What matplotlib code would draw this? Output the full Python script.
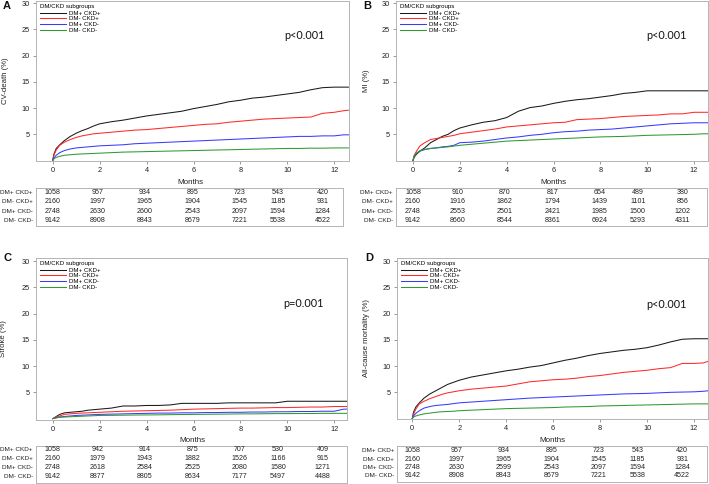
import matplotlib
matplotlib.use("Agg")
import matplotlib.pyplot as plt
from matplotlib.lines import Line2D
from matplotlib.transforms import blended_transform_factory

# ---------------- data ----------------
groups = ["DM+ CKD+", "DM- CKD+", "DM+ CKD-", "DM- CKD-"]
colors = ["#1a1a1a", "#ff2a2a", "#3a3aff", "#2f9a2f"]
months = [0, 0.05, 0.15, 0.3, 0.5, 0.75, 1, 1.25, 1.5, 1.75, 2,
          2.5, 3, 3.5, 4, 4.5, 5, 5.5, 6,
          6.5, 7, 7.5, 8, 8.5, 9, 9.5, 10,
          10.5, 11, 11.5, 12, 12.4, 12.6]
month_ticks = [0, 2, 4, 6, 8, 10, 12]
pct_ticks = [5, 10, 15, 20, 25, 30]

# A: CV death
cv_dmp_ckdp = [0, 1.2, 2.3, 3.0, 3.8, 4.6, 5.2, 5.7, 6.1, 6.6, 7.0, 7.4, 7.7, 8.1, 8.5, 8.8, 9.1, 9.4, 9.9,
               10.3, 10.7, 11.2, 11.5, 11.9, 12.1, 12.4, 12.7, 13.0, 13.5, 13.9, 14.0, 14.0, 14.0]
cv_dmn_ckdp = [0, 1.0, 2.0, 2.9, 3.5, 4.0, 4.4, 4.7, 4.9, 5.1, 5.2, 5.4, 5.6, 5.8, 5.9, 6.1, 6.3, 6.5, 6.7,
               6.9, 7.0, 7.3, 7.5, 7.7, 7.9, 8.0, 8.1, 8.2, 8.3, 9.0, 9.2, 9.5, 9.6]
cv_dmp_ckdn = [0, 0.5, 1.0, 1.5, 1.9, 2.2, 2.4, 2.5, 2.6, 2.7, 2.8, 2.9, 3.0, 3.2, 3.3, 3.4, 3.5, 3.6, 3.7,
               3.8, 3.9, 4.0, 4.1, 4.2, 4.3, 4.4, 4.5, 4.6, 4.6, 4.7, 4.7, 4.9, 4.9]
cv_dmn_ckdn = [0, 0.3, 0.6, 0.8, 1.0, 1.1, 1.2, 1.25, 1.3, 1.35, 1.4, 1.5, 1.6, 1.65, 1.7, 1.75, 1.8, 1.85, 1.9,
               1.95, 2.0, 2.05, 2.1, 2.15, 2.2, 2.25, 2.3, 2.3, 2.35, 2.35, 2.4, 2.4, 2.4]
# B: MI
mi_dmp_ckdp = [0, 0.6, 1.2, 1.8, 2.4, 3.4, 4.0, 4.6, 5.0, 5.7, 6.2, 6.8, 7.3, 7.6, 8.2, 9.4, 10.1, 10.4, 10.9,
               11.3, 11.6, 11.8, 12.1, 12.4, 12.8, 13.0, 13.3, 13.3, 13.3, 13.3, 13.3, 13.3, 13.3]
mi_dmn_ckdp = [0, 1.0, 1.8, 2.8, 3.4, 4.0, 4.2, 4.4, 4.6, 4.8, 5.1, 5.4, 5.7, 6.0, 6.4, 6.6, 6.8, 7.0, 7.2,
               7.3, 7.8, 7.9, 8.0, 8.2, 8.4, 8.5, 8.6, 8.7, 8.9, 8.9, 9.2, 9.2, 9.2]
mi_dmp_ckdn = [0, 0.8, 1.4, 1.8, 2.1, 2.3, 2.4, 2.6, 2.7, 2.9, 3.4, 3.5, 3.7, 4.0, 4.3, 4.5, 4.8, 5.0, 5.3,
               5.5, 5.6, 5.8, 5.9, 6.0, 6.2, 6.4, 6.6, 6.8, 7.0, 7.1, 7.2, 7.2, 7.2]
mi_dmn_ckdn = [0, 0.8, 1.4, 1.9, 2.1, 2.3, 2.4, 2.5, 2.6, 2.75, 2.9, 3.1, 3.3, 3.5, 3.7, 3.8, 3.9, 4.0, 4.1,
               4.2, 4.3, 4.4, 4.5, 4.55, 4.6, 4.7, 4.8, 4.85, 4.9, 4.95, 5.0, 5.1, 5.1]
# C: Stroke
st_dmp_ckdp = [0, 0.1, 0.4, 0.8, 1.1, 1.2, 1.3, 1.4, 1.6, 1.7, 1.8, 2.0, 2.4, 2.4, 2.5, 2.5, 2.6, 2.9, 2.9,
               2.9, 2.9, 3.0, 3.0, 3.0, 3.0, 3.0, 3.3, 3.3, 3.3, 3.3, 3.3, 3.3, 3.3]
st_dmn_ckdp = [0, 0.1, 0.3, 0.5, 0.8, 0.9, 1.0, 1.05, 1.1, 1.15, 1.2, 1.3, 1.4, 1.45, 1.5, 1.55, 1.6, 1.7, 1.8,
               1.85, 1.9, 1.95, 2.0, 2.0, 2.05, 2.1, 2.1, 2.15, 2.2, 2.2, 2.3, 2.3, 2.3]
st_dmp_ckdn = [0, 0.05, 0.15, 0.3, 0.4, 0.5, 0.6, 0.65, 0.7, 0.75, 0.8, 0.85, 0.9, 0.95, 1.0, 1.05, 1.05, 1.1, 1.1,
               1.15, 1.15, 1.2, 1.2, 1.25, 1.25, 1.3, 1.3, 1.35, 1.35, 1.4, 1.4, 1.8, 1.8]
st_dmn_ckdn = [0, 0.05, 0.15, 0.25, 0.3, 0.35, 0.4, 0.45, 0.5, 0.55, 0.6, 0.62, 0.65, 0.68, 0.7, 0.72, 0.75, 0.78, 0.8,
               0.82, 0.85, 0.87, 0.9, 0.9, 0.92, 0.95, 0.95, 0.97, 0.97, 1.0, 1.0, 1.0, 1.0]
# D: All-cause mortality
ac_dmp_ckdp = [0, 1.2, 2.2, 3.0, 3.9, 4.7, 5.3, 5.9, 6.5, 6.9, 7.3, 7.9, 8.3, 8.7, 9.1, 9.4, 9.8, 10.1, 10.6,
               11.1, 11.5, 12.0, 12.4, 12.7, 13.0, 13.2, 13.5, 14.0, 14.6, 15.1, 15.2, 15.2, 15.2]
ac_dmn_ckdp = [0, 0.8, 1.8, 2.8, 3.3, 3.8, 4.2, 4.6, 4.9, 5.1, 5.3, 5.6, 5.8, 6.0, 6.2, 6.6, 7.0, 7.2, 7.4,
               7.5, 7.7, 8.0, 8.2, 8.5, 8.8, 9.0, 9.2, 9.5, 9.7, 10.5, 10.5, 10.6, 10.9]
ac_dmp_ckdn = [0, 0.5, 1.0, 1.5, 2.0, 2.3, 2.5, 2.6, 2.7, 2.85, 3.0, 3.15, 3.3, 3.45, 3.6, 3.75, 3.9, 4.0, 4.1,
               4.2, 4.3, 4.4, 4.5, 4.6, 4.7, 4.75, 4.8, 4.9, 5.0, 5.05, 5.1, 5.2, 5.3]
ac_dmn_ckdn = [0, 0.3, 0.5, 0.7, 0.9, 1.05, 1.2, 1.3, 1.35, 1.4, 1.5, 1.6, 1.7, 1.8, 1.9, 1.95, 2.0, 2.05, 2.1,
               2.2, 2.25, 2.3, 2.4, 2.45, 2.5, 2.55, 2.6, 2.65, 2.7, 2.75, 2.8, 2.8, 2.8]

# numbers at risk
risk_A = [[1058, 957, 934, 895, 723, 543, 420],
          [2160, 1997, 1965, 1904, 1545, 1185, 931],
          [2748, 2630, 2600, 2543, 2097, 1594, 1284],
          [9142, 8908, 8843, 8679, 7221, 5538, 4522]]
risk_B = [[1058, 910, 870, 817, 654, 489, 380],
          [2160, 1916, 1862, 1794, 1439, 1101, 856],
          [2748, 2553, 2501, 2421, 1985, 1500, 1202],
          [9142, 8660, 8544, 8361, 6924, 5293, 4311]]
risk_C = [[1058, 942, 914, 875, 707, 530, 409],
          [2160, 1979, 1943, 1882, 1526, 1166, 915],
          [2748, 2618, 2584, 2525, 2080, 1580, 1271],
          [9142, 8877, 8805, 8634, 7177, 5497, 4488]]
risk_D = [[1058, 957, 934, 895, 723, 543, 420],
          [2160, 1997, 1965, 1904, 1545, 1185, 931],
          [2748, 2630, 2599, 2543, 2097, 1594, 1284],
          [9142, 8908, 8843, 8679, 7221, 5538, 4522]]

ylabels = ["CV-death (%)", "MI (%)", "Stroke (%)", "All-cause mortality (%)"]
pvalues = ["p<0.001", "p<0.001", "p=0.001", "p<0.001"]
letters = ["A", "B", "C", "D"]

# ---------------- layout (pixels) ----------------
W, H = 709, 484
fig = plt.figure(figsize=(W / 100, H / 100), dpi=100)
FONT = "Liberation Sans"
GRAY = "#b4b4b4"
risk_cols = [0.0, 1.9, 3.9, 5.95, 7.95, 9.6, 11.5]


def rect(l, t, r, b):
    return [l / W, 1 - b / H, (r - l) / W, (b - t) / H]


panels = [
    dict(ax=(36, 1, 349, 161), x0=52.7, x12=334.3, y0=160.5, y30=3.3,
         tab=(36, 188, 343, 226), r0=192.3, rsp=9.45, my=183, mx=190,
         let=(7, 6), pv=(304, 35.5), leg=(37, 1), ylx=5,
         series=[cv_dmp_ckdp, cv_dmn_ckdp, cv_dmp_ckdn, cv_dmn_ckdn], risk=risk_A),
    dict(ax=(396, 1, 708, 161), x0=413, x12=694, y0=160.5, y30=3.3,
         tab=(396, 188, 707, 226), r0=192.3, rsp=9.45, my=183, mx=553,
         let=(367, 6), pv=(666, 35.5), leg=(397, 1), ylx=366,
         series=[mi_dmp_ckdp, mi_dmn_ckdp, mi_dmp_ckdn, mi_dmn_ckdn], risk=risk_B),
    dict(ax=(36, 258, 347, 419.5), x0=52.7, x12=334.3, y0=418.6, y30=261,
         tab=(36, 446, 347, 483), r0=449.3, rsp=8.9, my=440.5, mx=192,
         let=(7, 258), pv=(303, 303.7), leg=(37, 258), ylx=4,
         series=[st_dmp_ckdp, st_dmn_ckdp, st_dmp_ckdn, st_dmn_ckdn], risk=risk_C),
    dict(ax=(397, 258, 708, 418.5), x0=412.3, x12=694, y0=418.6, y30=261,
         tab=(397, 445.5, 707, 482), r0=451, rsp=8.25, my=441, mx=552,
         let=(369, 258), pv=(666, 304.3), leg=(398, 258), ylx=366,
         series=[ac_dmp_ckdp, ac_dmn_ckdp, ac_dmp_ckdn, ac_dmn_ckdn], risk=risk_D),
]

for i, p in enumerate(panels):
    l, t, r, b = p["ax"]
    ax = fig.add_axes(rect(l, t, r, b))
    sx = (p["x12"] - p["x0"]) / 12.0
    sy = (p["y0"] - p["y30"]) / 30.0
    ax.set_xlim((l - p["x0"]) / sx, (r - p["x0"]) / sx)
    ax.set_ylim((p["y0"] - b) / sy, (p["y0"] - t) / sy)
    for s, c in zip(p["series"], colors):
        ax.plot(months, s, color=c, lw=0.75)
    ax.set_xticks(month_ticks)
    ax.set_yticks(pct_ticks)
    ax.tick_params(axis="both", length=2.5, width=0.6, color="#888888", labelsize=5.3,
                   labelcolor="#222222", pad=2)
    for lab in ax.get_xticklabels() + ax.get_yticklabels():
        lab.set_fontfamily(FONT)
    for sp in ax.spines.values():
        sp.set_color(GRAY)
        sp.set_linewidth(0.7)
    ax.set_ylabel(ylabels[i], fontsize=5.6, family=FONT, color="#222222")
    ax.yaxis.set_label_coords((p["ylx"] - l) / (r - l), 0.5)
    ax.yaxis.label.set_verticalalignment("center")

    handles = [Line2D([], [], color=c, lw=0.75) for c in colors]
    leg = ax.legend(handles, groups, title="DM/CKD subgroups", loc="upper left",
                    bbox_to_anchor=((p["leg"][0] - l) / (r - l), 1 - (p["leg"][1] - t) / (b - t)),
                    frameon=False, prop={"family": FONT, "size": 4.4},
                    title_fontproperties={"family": FONT, "size": 4.4},
                    handlelength=4.2, handletextpad=0.6, labelspacing=0.08,
                    borderaxespad=0.3, borderpad=0.2, alignment="left")
    leg._legend_box.sep = 1

    fig.text(p["pv"][0] / W, 1 - p["pv"][1] / H, pvalues[i], fontsize=7.8, family="Lato",
             ha="center", va="center", color="#111111")
    fig.text(p["let"][0] / W, 1 - p["let"][1] / H, letters[i], fontsize=8, family=FONT,
             weight="bold", ha="center", va="center", color="#111111")
    fig.text(p["mx"] / W, 1 - p["my"] / H, "Months", fontsize=5.8, family=FONT,
             ha="center", va="center", color="#222222")

    # at-risk table
    tl, tt, tr, tb = p["tab"]
    tax = fig.add_axes(rect(tl, tt, tr, tb))
    tax.set_xlim((tl - p["x0"]) / sx, (tr - p["x0"]) / sx)
    tax.set_ylim((tb - p["r0"]) / p["rsp"], (tt - p["r0"]) / p["rsp"])
    tax.set_xticks([])
    tax.set_yticks([])
    for sp in tax.spines.values():
        sp.set_color(GRAY)
        sp.set_linewidth(0.7)
    trans = blended_transform_factory(tax.transAxes, tax.transData)
    for k, row in enumerate(p["risk"]):
        for xc, v in zip(risk_cols, row):
            tax.text(xc, k, str(v), fontsize=5.1, family=FONT, ha="center", va="center", color="#222222")
        tax.text(-3.0 / (tr - tl), k, groups[k], transform=trans, fontsize=4.6, family=FONT,
                 ha="right", va="center", color="#222222")

fig.savefig("out.png", dpi=100)
